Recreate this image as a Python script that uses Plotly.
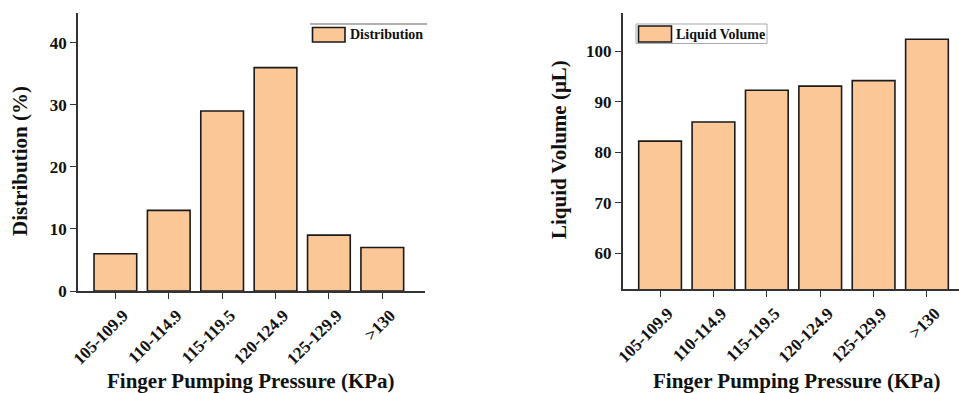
import plotly.graph_objects as go

categories = ["105-109.9", "110-114.9", "115-119.5", "120-124.9", "125-129.9", ">130"]
distribution = [6, 13, 29, 36, 9, 7]
liquid_volume = [82.2, 86.0, 92.3, 93.1, 94.2, 102.4]
dist_ticks = [0, 10, 20, 30, 40]
vol_ticks = [60, 70, 80, 90, 100]

W, H = 959, 393
FILL = "#FBC797"
EDGE = "#1a1a1a"
FONT = "Liberation Serif, Times New Roman, serif"

fig = go.Figure()
fig.add_trace(go.Bar(
    x=categories, y=distribution, name="Distribution",
    marker=dict(color=FILL, line=dict(color=EDGE, width=1.6)),
    width=0.8, xaxis="x", yaxis="y", showlegend=False,
))
fig.add_trace(go.Bar(
    x=categories, y=liquid_volume, name="Liquid Volume",
    marker=dict(color=FILL, line=dict(color=EDGE, width=1.6)),
    width=0.8, xaxis="x2", yaxis="y2", showlegend=False,
))

def px_x(p):
    return p / W

def px_y(p):
    return 1 - p / H

axis_common = dict(
    showline=True, linecolor="#333", linewidth=1.5,
    ticks="outside", ticklen=6, tickwidth=1.2, tickcolor="#333",
    showgrid=False, zeroline=False, automargin=False,
)
xtick_font = dict(family=FONT, size=17, color="#111")
ytick_font = dict(family=FONT, size=17, color="#111")
title_font = dict(family=FONT, size=21, color="#111")
xaxis_extra = dict(tickangle=-45, ticklabelshift=8, ticklabelstandoff=0)

fig.update_layout(
    width=W, height=H,
    margin=dict(l=0, r=0, t=0, b=0, autoexpand=False),
    paper_bgcolor="white", plot_bgcolor="white",
    font=dict(family=FONT, color="#111"),
    xaxis=dict(domain=[px_x(78), px_x(425)], anchor="y", range=[-0.7, 5.8],
               tickvals=categories, ticktext=["<b>%s</b>" % c for c in categories],
               tickfont=xtick_font, **xaxis_extra, **axis_common),
    yaxis=dict(domain=[px_y(291), px_y(13)], anchor="x", range=[0, 44.8],
               tickvals=dist_ticks, ticktext=["<b>%d</b>" % v for v in dist_ticks],
               tickfont=ytick_font, **axis_common),
    xaxis2=dict(domain=[px_x(622.7), 1.0], anchor="y2", range=[-0.7, 5.6],
                tickvals=categories, ticktext=["<b>%s</b>" % c for c in categories],
                tickfont=xtick_font, **xaxis_extra, **axis_common),
    yaxis2=dict(domain=[px_y(289), px_y(13)], anchor="x2", range=[52.9, 107.6],
                tickvals=vol_ticks, ticktext=["<b>%d</b>" % v for v in vol_ticks],
                tickfont=ytick_font, **axis_common),
)

# axis titles
fig.add_annotation(text="<b>Finger Pumping Pressure (KPa)</b>", xref="paper", yref="paper",
                   x=px_x(251), y=px_y(381), xanchor="center", yanchor="middle",
                   showarrow=False, font=title_font)
fig.add_annotation(text="<b>Finger Pumping Pressure (KPa)</b>", xref="paper", yref="paper",
                   x=px_x(797), y=px_y(380.5), xanchor="center", yanchor="middle",
                   showarrow=False, font=title_font)
fig.add_annotation(text="<b>Distribution (%)</b>", xref="paper", yref="paper",
                   x=px_x(20), y=px_y(161), xanchor="center", yanchor="middle",
                   textangle=-90, showarrow=False, font=title_font)
fig.add_annotation(text="<b>Liquid Volume (μL)</b>", xref="paper", yref="paper",
                   x=px_x(559), y=px_y(150), xanchor="center", yanchor="middle",
                   textangle=-90, showarrow=False, font=title_font)

# legends (drawn as swatch + label, Origin style)
leg_font = dict(family=FONT, size=14, color="#111")
fig.add_shape(type="line", xref="paper", yref="paper",
              x0=px_x(310), x1=px_x(427), y0=px_y(24), y1=px_y(24),
              line=dict(color="#999", width=1.5))
fig.add_shape(type="rect", xref="paper", yref="paper",
              x0=px_x(312.5), x1=px_x(345), y0=px_y(42), y1=px_y(27.5),
              fillcolor=FILL, line=dict(color=EDGE, width=1.6))
fig.add_annotation(text="<b>Distribution</b>", xref="paper", yref="paper",
                   x=px_x(348), y=px_y(35), xanchor="left", yanchor="middle",
                   showarrow=False, font=leg_font)
fig.add_shape(type="rect", xref="paper", yref="paper",
              x0=px_x(636), x1=px_x(767), y0=px_y(43.5), y1=px_y(24),
              fillcolor="white", line=dict(color="#aaa", width=1))
fig.add_shape(type="rect", xref="paper", yref="paper",
              x0=px_x(638.5), x1=px_x(671.5), y0=px_y(42), y1=px_y(26),
              fillcolor=FILL, line=dict(color=EDGE, width=1.6))
fig.add_annotation(text="<b>Liquid Volume</b>", xref="paper", yref="paper",
                   x=px_x(674), y=px_y(34.5), xanchor="left", yanchor="middle",
                   showarrow=False, font=leg_font)

fig.write_html("out.html", config={"displayModeBar": False},
               post_script="document.body.style.margin='0';")
